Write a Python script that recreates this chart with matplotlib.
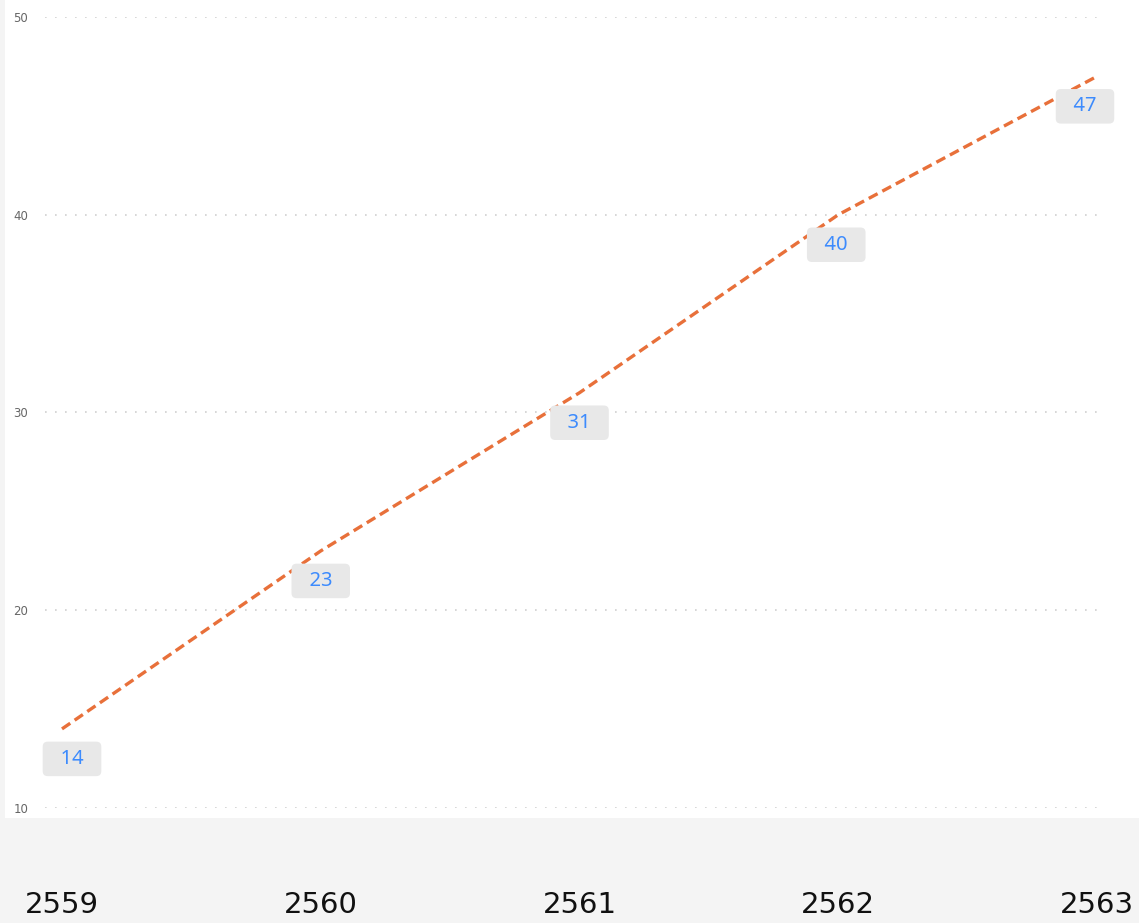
import matplotlib.pyplot as plt
from matplotlib.patches import Rectangle

years = ["2559", "2560", "2561", "2562", "2563"]
x_vals = [2559, 2560, 2561, 2562, 2563]
values = [14, 23, 31, 40, 47]
y_ticks = [10, 20, 30, 40, 50]
# label offsets in pixels (x shift to keep end labels inside)
label_dx = [10, 0, 0, -2, -12]

fig = plt.figure(figsize=(11.39, 9.23), dpi=100, facecolor="#f4f4f4")
# white chart panel
fig.patches.append(Rectangle((5 / 1139, (923 - 818) / 923), 1 - 5 / 1139, 818 / 923,
                             transform=fig.transFigure, facecolor="white",
                             edgecolor="none", zorder=-5))

ax = fig.add_axes([45 / 1139, (923 - 808) / 923, (1105 - 45) / 1139, (808 - 17) / 923])
ax.set_facecolor("none")
ax.set_zorder(2)

ax.plot(x_vals, values, color="#e8703a", linewidth=2.4, linestyle=(0, (3, 1.6)),
        zorder=3, clip_on=False)

for x, v, dx in zip(x_vals, values, label_dx):
    ax.annotate(f"  {v}  ", (x, v), xytext=(dx, -30), textcoords="offset pixels",
                ha="center", va="center", fontsize=14.5, color="#3d8bfd",
                family="Noto Sans",
                bbox=dict(boxstyle="round,pad=0.36,rounding_size=0.25",
                          facecolor="#e8e8e8", edgecolor="none"),
                zorder=4)

ax.set_xlim(2559 - 17 / 258.75, 2563 + 8 / 258.75)
ax.set_ylim(10, 50)
ax.set_yticks(y_ticks)
ax.set_yticklabels([str(t) for t in y_ticks])
ax.grid(axis="y", color="#d0d0d0", linestyle=(0, (1, 5)), linewidth=1.2)
ax.set_xticks(x_vals)
ax.set_xticklabels(years)

for s in ax.spines.values():
    s.set_visible(False)
ax.tick_params(axis="y", length=0, labelsize=8.5, labelcolor="#666666", pad=12)
ax.tick_params(axis="x", length=0, labelsize=21, labelcolor="#111111", pad=60)

plt.savefig("out.png", dpi=100, facecolor=fig.get_facecolor())
